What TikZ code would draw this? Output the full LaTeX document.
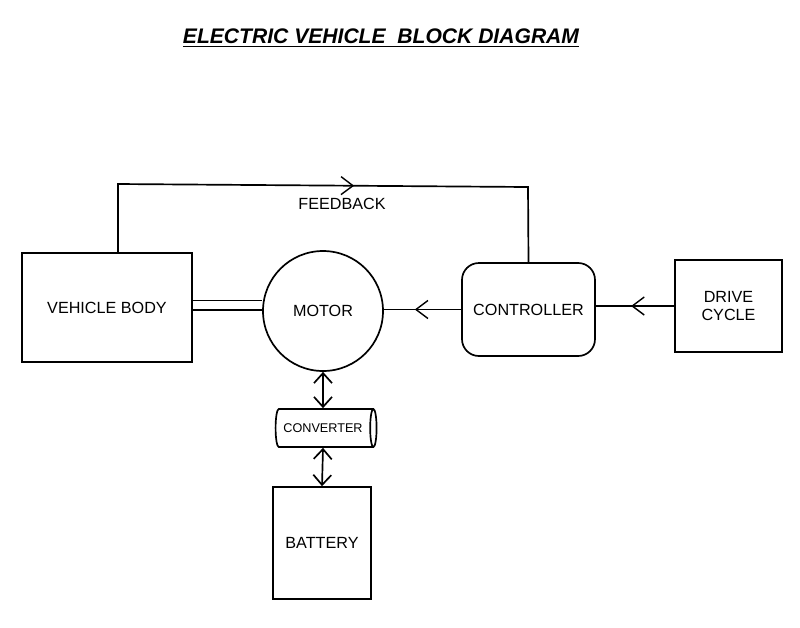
\documentclass[tikz,border=0pt]{standalone}
\usepackage{fontspec}
\setmainfont{Liberation Sans}
\usetikzlibrary{arrows.meta,shapes.geometric,decorations.markings}
\tikzset{
	blk/.style={draw,thick,minimum width=#1},
	midarrow/.style={postaction={decorate},decoration={markings,
		mark=at position #1 with {\arrow{Straight Barb[length=3mm,width=4.5mm,line width=1pt]}}}}
}
\begin{document}
\begin{tikzpicture}[x=0.025cm,y=-0.025cm,line width=1.2pt,font=\fontsize{11.5}{13}\selectfont]
	\useasboundingbox (0,0) rectangle (800,627);
	% title
	\node (title) at (381,38) {\fontsize{15}{17}\selectfont\bfseries\itshape\underline{ELECTRIC VEHICLE\ \ BLOCK DIAGRAM}};
	% blocks
	\node[draw,minimum width=170*0.025cm,minimum height=109*0.025cm] (body) at (107,307.5) {VEHICLE BODY};
	\node[draw,circle,minimum size=120*0.025cm] (motor) at (323,311) {MOTOR};
	\node[draw,rounded corners=12pt,minimum width=133*0.025cm,minimum height=93*0.025cm] (ctrl) at (528.5,309.5) {CONTROLLER};
	\node[draw,minimum width=107*0.025cm,minimum height=92*0.025cm,align=center] (drive) at (728.5,306) {DRIVE\\CYCLE};
	\node[draw,cylinder,shape border rotate=0,aspect=0.35,minimum width=38*0.025cm,minimum height=101*0.025cm,font=\fontsize{9}{10}\selectfont] (conv) at (323,428) {CONVERTER};
	\node[draw,minimum width=98*0.025cm,minimum height=112*0.025cm] (batt) at (322,543) {BATTERY};
	% feedback loop
	\coordinate (fb1) at (118,184);
	\coordinate (fb2) at (528,187);
	\draw[midarrow=0.55] (body.north -| fb1) -- (fb1) -- (fb2) -- (ctrl.north);
	\node (fblabel) at (342,204) {FEEDBACK};
	% links
	\draw ([yshift=5pt]body.east) -- ([yshift=5pt]body.east -| motor.west);
	\draw ([yshift=-2pt]body.east) -- ([yshift=-2pt]body.east -| motor.west);
	\draw[midarrow=0.6] (ctrl.west) -- (motor.east |- ctrl.west);
	\draw[midarrow=0.55] (drive.west) -- (ctrl.east |- drive.west);
	\draw[{Straight Barb[length=2.5mm,width=4.5mm]}-{Straight Barb[length=2.5mm,width=4.5mm]}] (motor.south) -- (conv.north);
	\draw[{Straight Barb[length=2.5mm,width=4.5mm]}-{Straight Barb[length=2.5mm,width=4.5mm]}] (conv.south) -- (batt.north);
\end{tikzpicture}
\end{document}
